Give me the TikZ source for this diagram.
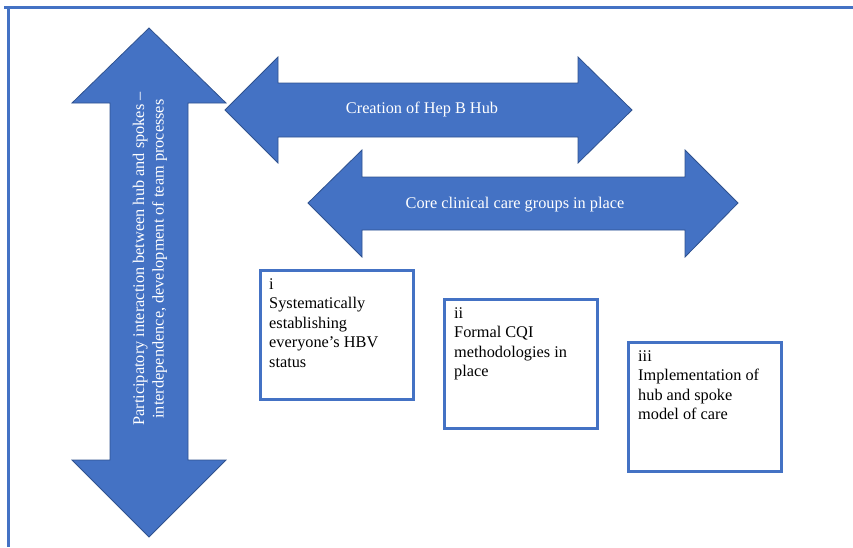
\documentclass[tikz,border=0pt]{standalone}
\usepackage{fontspec}
\setmainfont{Liberation Serif}
\usetikzlibrary{positioning}
\definecolor{hubblue}{HTML}{4472C4}
\definecolor{hubedge}{HTML}{2F528F}

\begin{document}
\begin{tikzpicture}[x=1pt,y=-1pt,font=\fontsize{16.3}{19.5}\selectfont]
  \tikzstyle{band}=[fill=hubblue,draw=hubedge,line width=0.8pt,line join=miter]
  \tikzstyle{bandtext}=[text=white,align=center,inner sep=0pt]
  \tikzstyle{box}=[draw=hubblue,line width=2.5pt,minimum width=153pt,minimum height=129pt,anchor=north west,inner sep=0pt]
  \tikzstyle{boxtext}=[anchor=north west,align=left,inner sep=0pt]
  \useasboundingbox (0,0) rectangle (853,547);
  % page frame
  \draw[hubblue,line width=3pt] (4,7.5) -- (853,7.5);
  \draw[hubblue,line width=3pt] (8.5,6) -- (8.5,547);
  % big arrows
  \draw[band] (149,28) -- (226,103) -- (188,103) -- (188,460) -- (226,460) -- (149,537)
    -- (72,460) -- (110,460) -- (110,103) -- (72,103) -- cycle;
  \draw[band] (225,110) -- (278,57) -- (278,83) -- (578,83) -- (578,57) -- (632,110)
    -- (578,163) -- (578,137) -- (278,137) -- (278,163) -- cycle;
  \draw[band] (308,203) -- (362,150) -- (362,177) -- (685,177) -- (685,150) -- (738,203)
    -- (685,257) -- (685,230) -- (362,230) -- (362,257) -- cycle;
  \node[bandtext,rotate=90] (team) at (150,259) {Participatory interaction between hub and spokes –\\interdependence, development of team processes};
  \node[bandtext] (hub) at (422,109) {Creation of Hep B Hub};
  \node[bandtext] (core) at (515,205) {Core clinical care groups in place};
  % steps
  \node[box] (stepi) at (259,269) {};
  \node[box] (stepii) at (443,298) {};
  \node[box] (stepiii) at (627,341) {};
  \node[boxtext,below right=9pt and 10pt of stepi.north west] (texti) {i\\Systematically\\establishing\\everyone’s HBV\\status};
  \node[boxtext,below right=9pt and 11pt of stepii.north west] (textii) {ii\\Formal CQI\\methodologies in\\place};
  \node[boxtext,below right=9pt and 11pt of stepiii.north west] (textiii) {iii\\Implementation of\\hub and spoke\\model of care};
\end{tikzpicture}
\end{document}
